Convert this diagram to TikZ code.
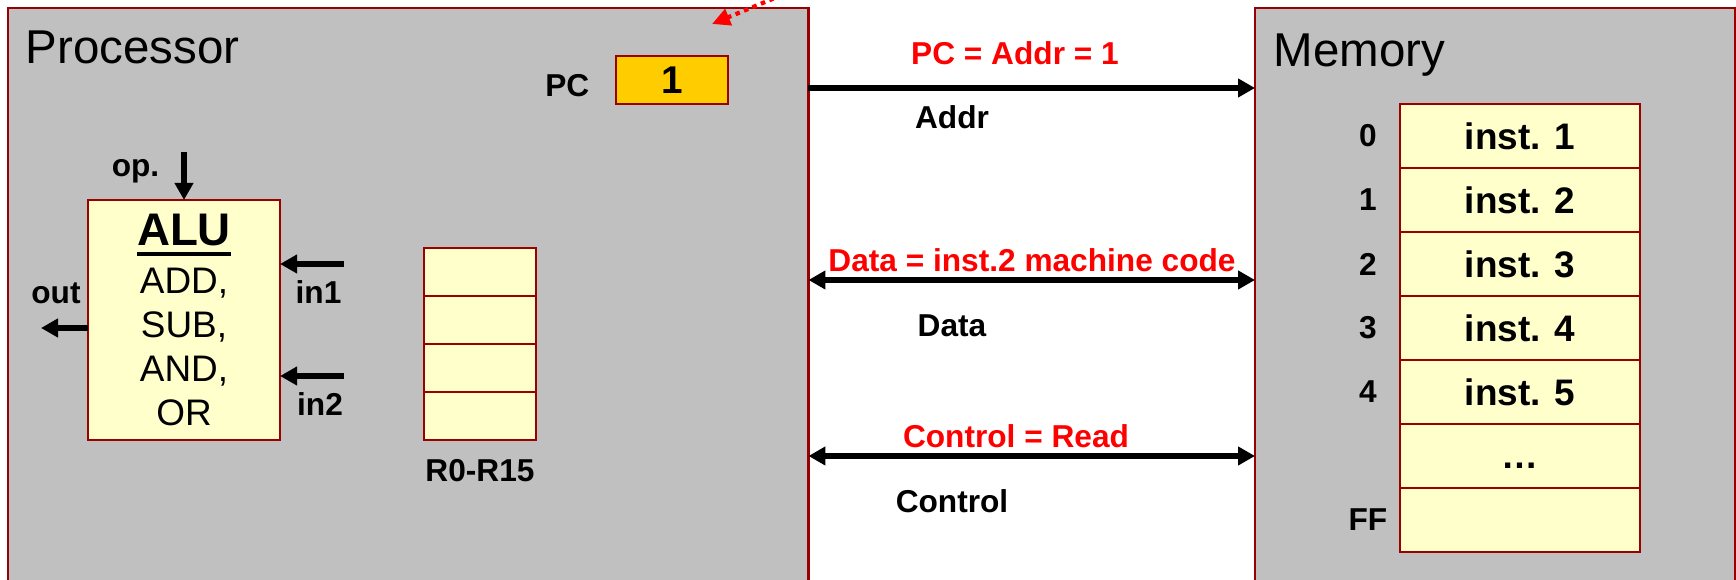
\documentclass[tikz,border=0pt]{standalone}
\usepackage{fontspec}
\setmainfont{Liberation Sans}
\usetikzlibrary{arrows.meta,positioning}
\definecolor{boxred}{HTML}{990000}
\definecolor{cpugray}{HTML}{C0C0C0}
\definecolor{cellyellow}{HTML}{FFFFCC}
\definecolor{pcgold}{HTML}{FFCC00}
\newcommand{\thickunderline}[1]{\setbox0=\hbox{#1}\rlap{\rule[-2.9pt]{\wd0}{1.1pt}}\box0}

\begin{document}
\begin{tikzpicture}[x=0.01cm, y=-0.01cm, >={Triangle[length=1.7mm,width=1.8mm]}]
    \tikzset{
      block/.style={draw=boxred, line width=0.7pt, fill=cpugray, inner sep=0pt, outer sep=0pt, anchor=north west},
      unit/.style={draw=boxred, line width=0.7pt, fill=cellyellow, inner sep=0pt, outer sep=0pt},
      title/.style={font=\fontsize{13.5}{16}\selectfont, inner sep=0pt, anchor=base west},
      tag/.style={font=\fontsize{9}{11}\selectfont\bfseries, inner sep=0pt, anchor=base},
      state/.style={tag, text=red},
      bus/.style={line width=1.6pt},
      sig/.style={line width=1.5pt, ->},
      hint/.style={red, line width=1.2pt, dash pattern=on 1.3pt off 1.3pt, -{Triangle[length=1.8mm,width=1.7mm]}}
    }
    \useasboundingbox (0,0) rectangle (1736,580);
    \clip (0,0) rectangle (1736,580);

    % processor and memory
    \node[block, minimum width=8cm, minimum height=6.2cm] (proc) at (8,8) {};
    \node[block, minimum width=4.8cm, minimum height=6.2cm] (mem) at (1255,8) {};
    \node[title] (proctitle) at (25,64) {Processor};
    \node[title] (memtitle) at (1273,67) {Memory};

    % program counter
    \node[unit, fill=pcgold, minimum width=1.12cm, minimum height=0.48cm,
          font=\fontsize{11}{13}\selectfont\bfseries] (pc) at (672,80) {1};
    \node[tag, anchor=base east] (pclabel) at (590,97) {PC};
    \coordinate (hintsrc) at (782,-5);
    \coordinate (hintdst) at (712,24);
    \draw[hint] (hintsrc) -- (hintdst);

    % ALU
    \node[unit, minimum width=1.92cm, minimum height=2.4cm, align=center,
          font=\fontsize{10.5}{12.5}\selectfont] (alu) at (184,320)
          {{\fontsize{13}{15}\selectfont\bfseries\thickunderline{ALU}}\\[1.2pt] ADD,\\ SUB,\\ AND,\\ OR};
    \coordinate (opsrc) at (184,152);
    \coordinate (in1src) at (344,264);
    \coordinate (in2src) at (344,376);
    \coordinate (outdst) at (41,328);
    \draw[sig] (opsrc) -- (alu.north);
    \draw[sig] (in1src) -- (in1src -| alu.east);
    \draw[sig] (in2src) -- (in2src -| alu.east);
    \draw[sig] (outdst -| alu.west) -- (outdst);
    \node[tag] (oplabel) at (135.5,177) {op.};
    \node[tag] (in1label) at (318.5,304) {in1};
    \node[tag] (in2label) at (320,416) {in2};
    \node[tag] (outlabel) at (56,304) {out};

    % registers
    \foreach \i in {0,...,3}
      \node[unit, minimum width=1.12cm, minimum height=0.48cm] (reg\i) at (480,272+48*\i) {};
    \node[tag, anchor=north, below=0.19cm of reg3] (reglabel) {R0-R15};

    % buses
    \coordinate (addrbus) at (0,88);
    \coordinate (databus) at (0,280);
    \coordinate (ctrlbus) at (0,456);
    \draw[bus, ->] (proc.east |- addrbus) -- (mem.west |- addrbus);
    \draw[bus, <->] (proc.east |- databus) -- (mem.west |- databus);
    \draw[bus, <->] (proc.east |- ctrlbus) -- (mem.west |- ctrlbus);
    \node[state] (addrval) at (1015,65) {PC = Addr = 1};
    \node[tag] (addrlabel) at (952,129) {Addr};
    \node[state] (dataval) at (1032,272) {Data = inst.2 machine code};
    \node[tag] (datalabel) at (952,337) {Data};
    \node[state] (ctrlval) at (1016,448) {Control = Read};
    \node[tag] (ctrllabel) at (952,513) {Control};

    % memory cells
    \foreach \i/\t in {0/inst. 1, 1/inst. 2, 2/inst. 3, 3/inst. 4, 4/inst. 5, 5/…, 6/}
      \node[unit, minimum width=2.4cm, minimum height=0.64cm,
            font=\fontsize{10.5}{12.5}\selectfont\bfseries] (cell\i) at (1520,136+64*\i) {\vphantom{1}\t};
    \foreach \i/\a in {0/0, 1/1, 2/2, 3/3, 4/4, 6/FF}
      \node[tag, anchor=center] (addr\i) at ([xshift=-0.32cm]cell\i.west) {\a};
\end{tikzpicture}
\end{document}
